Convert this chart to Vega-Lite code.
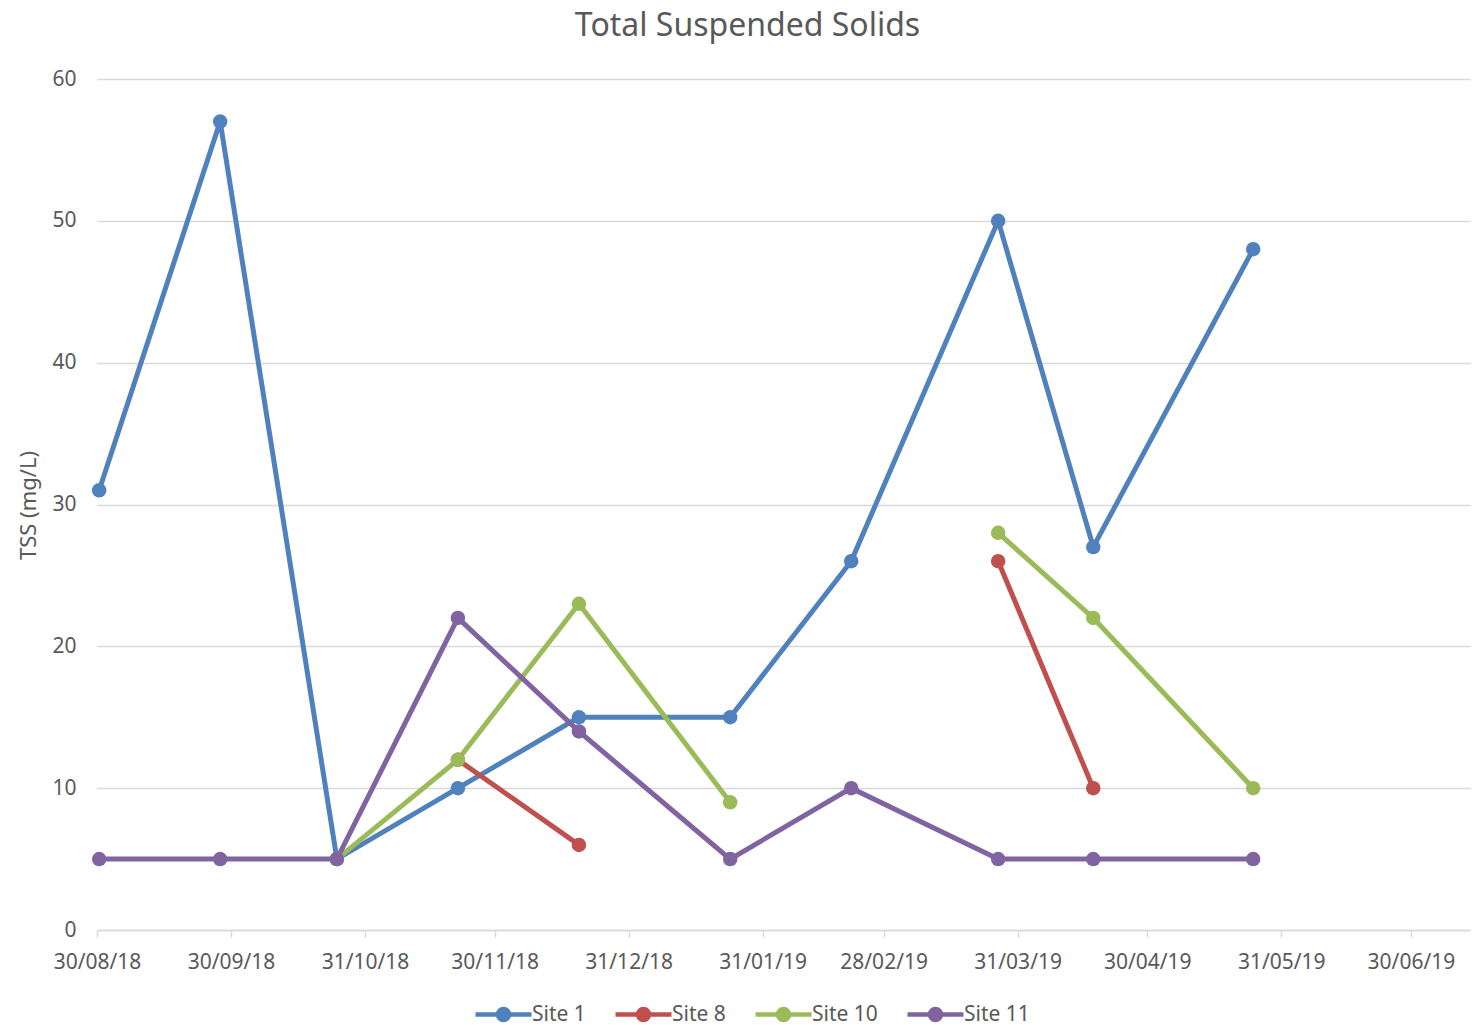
{
  "$schema": "https://vega.github.io/schema/vega-lite/v6.json",
  "width": 1373,
  "height": 851,
  "autosize": {"type": "none"},
  "padding": {"left": 97, "top": 79, "right": 2, "bottom": 95},
  "background": "white",
  "title": {
    "text": "Total Suspended Solids",
    "font": "Noto Sans",
    "fontSize": 32,
    "fontWeight": "normal",
    "color": "#595959",
    "anchor": "middle",
    "frame": "group",
    "dx": -36,
    "offset": 25
  },
  "data": {
    "values": [
      {"site": "Site 1", "date": "2018-08-30T12:00:00Z", "tss": 31},
      {"site": "Site 1", "date": "2018-09-27T12:00:00Z", "tss": 57},
      {"site": "Site 1", "date": "2018-10-24T12:00:00Z", "tss": 5},
      {"site": "Site 1", "date": "2018-11-21T12:00:00Z", "tss": 10},
      {"site": "Site 1", "date": "2018-12-19T12:00:00Z", "tss": 15},
      {"site": "Site 1", "date": "2019-01-23T12:00:00Z", "tss": 15},
      {"site": "Site 1", "date": "2019-02-20T12:00:00Z", "tss": 26},
      {"site": "Site 1", "date": "2019-03-26T12:00:00Z", "tss": 50},
      {"site": "Site 1", "date": "2019-04-17T12:00:00Z", "tss": 27},
      {"site": "Site 1", "date": "2019-05-24T12:00:00Z", "tss": 48},
      {"site": "Site 8", "date": "2018-11-21T12:00:00Z", "tss": 12},
      {"site": "Site 8", "date": "2018-12-19T12:00:00Z", "tss": 6},
      {"site": "Site 8", "date": "2019-01-23T12:00:00Z", "tss": null},
      {"site": "Site 8", "date": "2019-02-20T12:00:00Z", "tss": null},
      {"site": "Site 8", "date": "2019-03-26T12:00:00Z", "tss": 26},
      {"site": "Site 8", "date": "2019-04-17T12:00:00Z", "tss": 10},
      {"site": "Site 10", "date": "2018-10-24T12:00:00Z", "tss": 5},
      {"site": "Site 10", "date": "2018-11-21T12:00:00Z", "tss": 12},
      {"site": "Site 10", "date": "2018-12-19T12:00:00Z", "tss": 23},
      {"site": "Site 10", "date": "2019-01-23T12:00:00Z", "tss": 9},
      {"site": "Site 10", "date": "2019-02-20T12:00:00Z", "tss": null},
      {"site": "Site 10", "date": "2019-03-26T12:00:00Z", "tss": 28},
      {"site": "Site 10", "date": "2019-04-17T12:00:00Z", "tss": 22},
      {"site": "Site 10", "date": "2019-05-24T12:00:00Z", "tss": 10},
      {"site": "Site 11", "date": "2018-08-30T12:00:00Z", "tss": 5},
      {"site": "Site 11", "date": "2018-09-27T12:00:00Z", "tss": 5},
      {"site": "Site 11", "date": "2018-10-24T12:00:00Z", "tss": 5},
      {"site": "Site 11", "date": "2018-11-21T12:00:00Z", "tss": 22},
      {"site": "Site 11", "date": "2018-12-19T12:00:00Z", "tss": 14},
      {"site": "Site 11", "date": "2019-01-23T12:00:00Z", "tss": 5},
      {"site": "Site 11", "date": "2019-02-20T12:00:00Z", "tss": 10},
      {"site": "Site 11", "date": "2019-03-26T12:00:00Z", "tss": 5},
      {"site": "Site 11", "date": "2019-04-17T12:00:00Z", "tss": 5},
      {"site": "Site 11", "date": "2019-05-24T12:00:00Z", "tss": 5}
    ]
  },
  "mark": {
    "type": "line",
    "strokeWidth": 5,
    "point": {"filled": true, "size": 210, "opacity": 1}
  },
  "encoding": {
    "x": {
      "field": "date",
      "type": "temporal",
      "scale": {
        "type": "utc",
        "domain": [
          {"year": 2018, "month": 8, "date": 30, "utc": true},
          {"year": 2019, "month": 7, "date": 13, "hours": 16, "utc": true}
        ],
        "nice": false
      },
      "axis": {
        "title": null,
        "grid": false,
        "values": [
          {"year": 2018, "month": 8, "date": 30, "utc": true},
          {"year": 2018, "month": 9, "date": 30, "utc": true},
          {"year": 2018, "month": 10, "date": 31, "utc": true},
          {"year": 2018, "month": 11, "date": 30, "utc": true},
          {"year": 2018, "month": 12, "date": 31, "utc": true},
          {"year": 2019, "month": 1, "date": 31, "utc": true},
          {"year": 2019, "month": 2, "date": 28, "utc": true},
          {"year": 2019, "month": 3, "date": 31, "utc": true},
          {"year": 2019, "month": 4, "date": 30, "utc": true},
          {"year": 2019, "month": 5, "date": 31, "utc": true},
          {"year": 2019, "month": 6, "date": 30, "utc": true}
        ],
        "labelExpr": "utcFormat(datum.value, '%d/%m/%y')",
        "labelFont": "Noto Sans",
        "labelFontSize": 21,
        "labelColor": "#595959",
        "labelPadding": 14,
        "labelFlush": false,
        "labelOverlap": false,
        "domainColor": "#D9D9D9",
        "domainWidth": 1.5,
        "tickColor": "#D9D9D9",
        "tickWidth": 1.5,
        "tickSize": 7
      }
    },
    "y": {
      "field": "tss",
      "type": "quantitative",
      "scale": {"domain": [0, 60], "nice": false},
      "axis": {
        "title": "TSS (mg/L)",
        "values": [0, 10, 20, 30, 40, 50, 60],
        "domain": false,
        "ticks": false,
        "tickSize": 0,
        "grid": true,
        "gridColor": "#D9D9D9",
        "gridWidth": 1.5,
        "labelFont": "Noto Sans",
        "labelFontSize": 21,
        "labelColor": "#595959",
        "labelPadding": 21,
        "titleFont": "Noto Sans",
        "titleFontSize": 22,
        "titleFontWeight": "normal",
        "titleColor": "#595959",
        "titleX": -69,
        "titleY": 426,
        "titleAngle": -90,
        "titleAlign": "center",
        "titleBaseline": "middle"
      }
    },
    "color": {
      "field": "site",
      "type": "nominal",
      "scale": {
        "domain": ["Site 1", "Site 8", "Site 10", "Site 11"],
        "range": ["#4F81BD", "#C0504D", "#9BBB59", "#8064A2"]
      },
      "legend": {
        "title": null,
        "orient": "none",
        "direction": "horizontal",
        "legendX": 396,
        "legendY": 925,
        "padding": 0,
        "symbolType": "M-5.6,0H5.6M-1.1,0C-1.1,-0.6075,-0.6075,-1.1,0,-1.1C0.6075,-1.1,1.1,-0.6075,1.1,0C1.1,0.6075,0.6075,1.1,0,1.1C-0.6075,1.1,-1.1,0.6075,-1.1,0Z",
        "symbolSize": 100,
        "symbolStrokeWidth": 4.5,
        "labelOffset": 18,
        "columnPadding": 20,
        "labelFont": "Noto Sans",
        "labelFontSize": 21,
        "labelColor": "#595959",
        "encode": {
          "symbols": {
            "update": {
              "fill": {"scale": "color", "field": "value"},
              "stroke": {"scale": "color", "field": "value"},
              "opacity": {"value": 1},
              "fillOpacity": {"value": 1}
            }
          }
        }
      }
    }
  },
  "config": {
    "view": {"stroke": null}
  }
}
